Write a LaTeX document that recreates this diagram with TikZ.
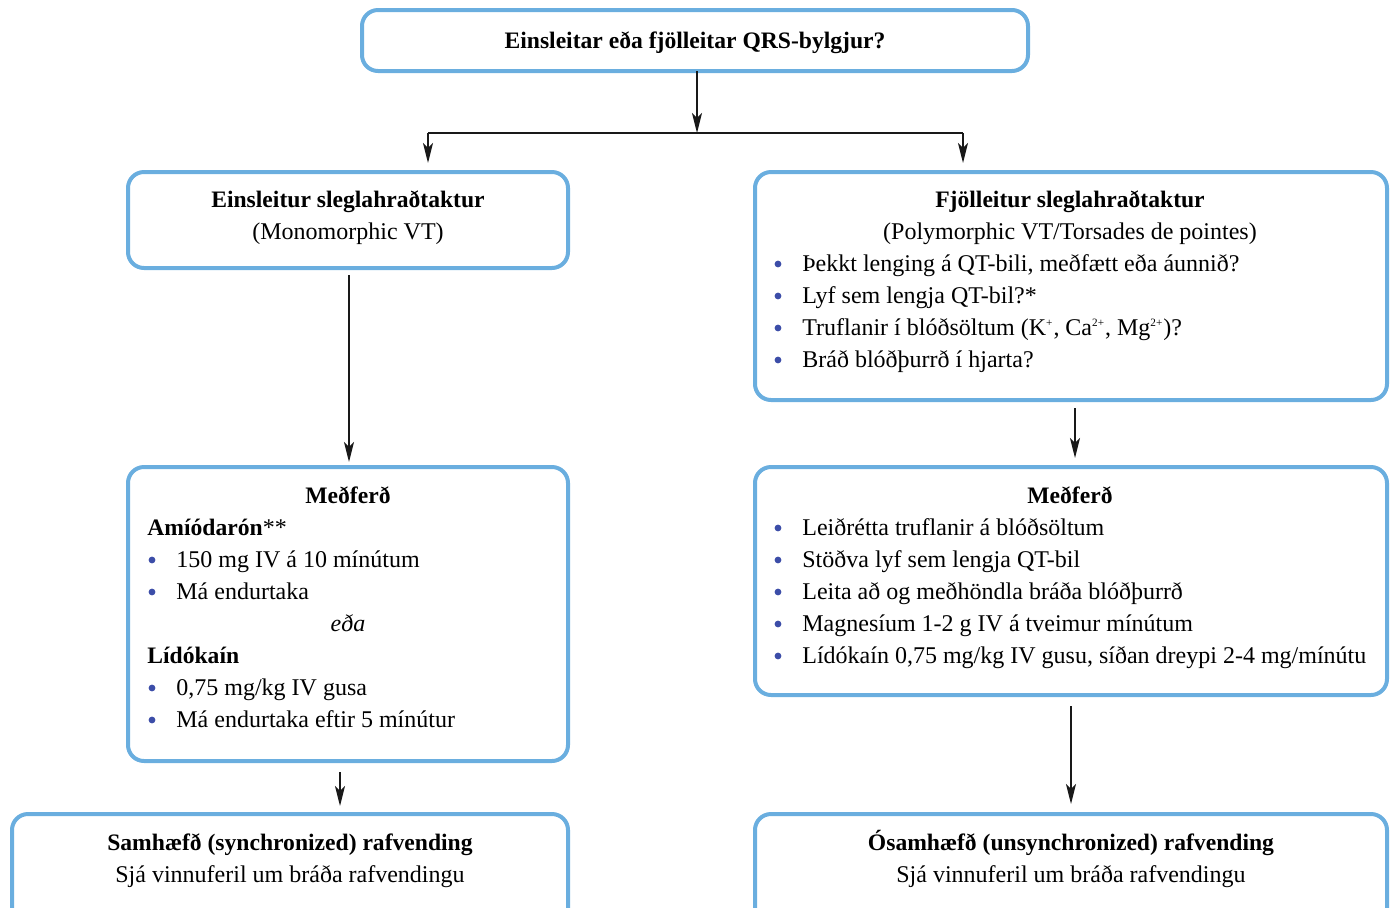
\documentclass[tikz,border=0pt]{standalone}
\usepackage{fontspec}
\setmainfont{Liberation Serif}
\usetikzlibrary{arrows.meta}
\definecolor{boxblue}{HTML}{6AAEDF}
\definecolor{bulblue}{HTML}{3C4DA8}
\newcommand{\hd}[1]{{\fontsize{11.8pt}{14pt}\selectfont\bfseries #1}}
\tikzset{
  box/.style={draw=boxblue, line width=2pt, rounded corners=8pt, anchor=north west, inner sep=0pt, outer sep=0pt},
  txt/.style={anchor=base, inner sep=0pt, font=\fontsize{12pt}{14pt}\selectfont},
  ltxt/.style={anchor=base west, inner sep=0pt, font=\fontsize{12pt}{14pt}\selectfont},
  dot/.style={circle, fill=bulblue, inner sep=0pt, minimum size=3.4pt},
  conn/.style={line width=1pt, draw=black!90},
  arr/.style={conn, -{Stealth[length=10pt, width=5pt, inset=2.5pt]}},
}
\begin{document}
\begin{tikzpicture}[x=0.5pt, y=-0.5pt]
\useasboundingbox (0,0) rectangle (1394,907);
\clip (0,0) rectangle (1394,907);
% boxes
\node[box, minimum width=333pt, minimum height=30.5pt] (top) at (362,10) {};
\node[box, minimum width=220pt, minimum height=48pt] (L1) at (128,172) {};
\node[box, minimum width=316pt, minimum height=114pt] (R1) at (755,172) {};
\node[box, minimum width=220pt, minimum height=147pt] (L2) at (128,467) {};
\node[box, minimum width=316pt, minimum height=114pt] (R2) at (755,467) {};
\node[box, minimum width=278pt, minimum height=63pt] (BL) at (12,814) {};
\node[box, minimum width=316pt, minimum height=63pt] (BR) at (755,814) {};
% top text
\node[txt] (t0) at (695,48) {\hd{Einsleitar eða fjölleitar QRS-bylgjur?}};
% L1
\node[txt] (l1a) at (348,207) {\hd{Einsleitur sleglahraðtaktur}};
\node[txt] (l1b) at (348,239) {(Monomorphic VT)};
% R1
\node[txt] (r1a) at (1070,207) {\hd{Fjölleitur sleglahraðtaktur}};
\node[txt] (r1b) at (1070,239) {(Polymorphic VT/Torsades de pointes)};
\node[dot] (r1d1) at (778,264) {};
\node[ltxt] (r1t1) at (802,271) {Þekkt lenging á QT-bili, meðfætt eða áunnið?};
\node[dot] (r1d2) at (778,296) {};
\node[ltxt] (r1t2) at (802,303) {Lyf sem lengja QT-bil?*};
\node[dot] (r1d3) at (778,328) {};
\node[ltxt] (r1t3) at (802,335) {Truflanir í blóðsöltum (K\textsuperscript{\scalebox{0.7}{+}}, Ca\textsuperscript{\scalebox{0.7}{2+}}, Mg\textsuperscript{\scalebox{0.7}{2+}})?};
\node[dot] (r1d4) at (778,360) {};
\node[ltxt] (r1t4) at (802,367) {Bráð blóðþurrð í hjarta?};
% L2
\node[txt] (l2a) at (348,503) {\hd{Meðferð}};
\node[ltxt] (l2b) at (147,535) {\hd{Amíódarón}**};
\node[dot] (l2d1) at (152,560) {};
\node[ltxt] (l2t1) at (176,567) {150 mg IV á 10 mínútum};
\node[dot] (l2d2) at (152,592) {};
\node[ltxt] (l2t2) at (176,599) {Má endurtaka};
\node[txt] (l2c) at (348,631) {\itshape eða};
\node[ltxt] (l2e) at (147,663) {\hd{Lídókaín}};
\node[dot] (l2d3) at (152,688) {};
\node[ltxt] (l2t3) at (176,695) {0,75 mg/kg IV gusa};
\node[dot] (l2d4) at (152,720) {};
\node[ltxt] (l2t4) at (176,727) {Má endurtaka eftir 5 mínútur};
% R2
\node[txt] (r2a) at (1070,503) {\hd{Meðferð}};
\node[dot] (r2d1) at (778,528) {};
\node[ltxt] (r2t1) at (802,535) {Leiðrétta truflanir á blóðsöltum};
\node[dot] (r2d2) at (778,560) {};
\node[ltxt] (r2t2) at (802,567) {Stöðva lyf sem lengja QT-bil};
\node[dot] (r2d3) at (778,592) {};
\node[ltxt] (r2t3) at (802,599) {Leita að og meðhöndla bráða blóðþurrð};
\node[dot] (r2d4) at (778,624) {};
\node[ltxt] (r2t4) at (802,631) {Magnesíum 1-2 g IV á tveimur mínútum};
\node[dot] (r2d5) at (778,656) {};
\node[ltxt] (r2t5) at (802,663) {Lídókaín 0,75 mg/kg IV gusu, síðan dreypi 2-4 mg/mínútu};
% bottom
\node[txt] (bla) at (290,850) {\hd{Samhæfð (synchronized) rafvending}};
\node[txt] (blb) at (290,882) {Sjá vinnuferil um bráða rafvendingu};
\node[txt] (bra) at (1071,850) {\hd{Ósamhæfð (unsynchronized) rafvending}};
\node[txt] (brb) at (1071,882) {Sjá vinnuferil um bráða rafvendingu};
% connectors
\coordinate (j) at (697,133);
\coordinate (jl) at (428,133);
\coordinate (jr) at (963,133);
\draw[arr] (top.south -| j) -- (j);
\draw[conn] (jl) -- (jr);
\draw[arr, shorten >=4.5pt] (jl) -- (jl |- L1.north);
\draw[arr, shorten >=4.5pt] (jr) -- (jr |- R1.north);
\draw[arr, shorten <=3.5pt, shorten >=2.5pt] ([xshift=0.5pt]L1.south) -- ([xshift=0.5pt]L2.north);
\draw[arr, shorten <=4pt, shorten >=4.5pt] ([xshift=2pt]R1.south) -- ([xshift=2pt]R2.north);
\draw[arr, shorten <=5.5pt, shorten >=4pt] ([xshift=-4pt]L2.south) -- ([xshift=-4pt]L2.south |- BL.north);
\draw[arr, shorten <=5.5pt, shorten >=5pt] (R2.south) -- (BR.north);
\end{tikzpicture}
\end{document}
